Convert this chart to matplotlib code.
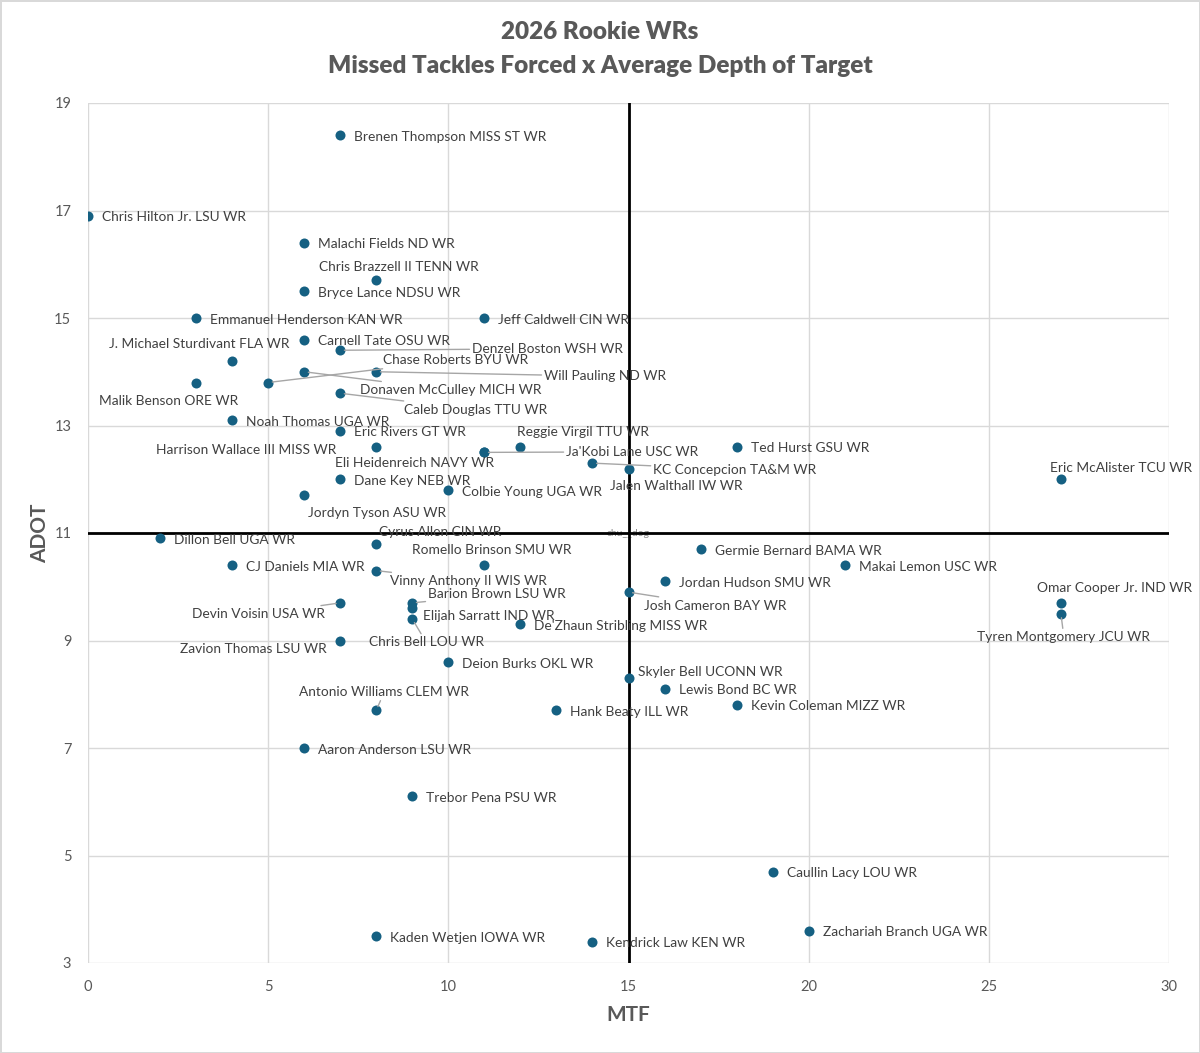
import matplotlib
matplotlib.use("Agg")
import matplotlib.pyplot as plt

# ---------------- data ----------------
players = [
    "Brenen Thompson MISS ST WR", "Chris Hilton Jr. LSU WR", "Malachi Fields ND WR",
    "Chris Brazzell II TENN WR", "Bryce Lance NDSU WR", "Emmanuel Henderson KAN WR",
    "Jeff Caldwell CIN WR", "Carnell Tate OSU WR", "Denzel Boston WSH WR",
    "J. Michael Sturdivant FLA WR", "Chase Roberts BYU WR", "Will Pauling ND WR",
    "Donaven McCulley MICH WR", "Malik Benson ORE WR", "Caleb Douglas TTU WR",
    "Noah Thomas UGA WR", "Eric Rivers GT WR", "Harrison Wallace III MISS WR",
    "Reggie Virgil TTU WR", "Eli Heidenreich NAVY WR", "Ja'Kobi Lane USC WR",
    "Ted Hurst GSU WR", "KC Concepcion TA&M WR", "Jalen Walthall IW WR",
    "Eric McAlister TCU WR", "Dane Key NEB WR", "Colbie Young UGA WR",
    "Jordyn Tyson ASU WR", "Dillon Bell UGA WR", "Cyrus Allen CIN WR",
    "Romello Brinson SMU WR", "Germie Bernard BAMA WR", "CJ Daniels MIA WR",
    "Makai Lemon USC WR", "Vinny Anthony II WIS WR", "Jordan Hudson SMU WR",
    "Omar Cooper Jr. IND WR", "Tyren Montgomery JCU WR", "Josh Cameron BAY WR",
    "Barion Brown LSU WR", "Elijah Sarratt IND WR", "Chris Bell LOU WR",
    "Devin Voisin USA WR", "De'Zhaun Stribling MISS WR", "Zavion Thomas LSU WR",
    "Deion Burks OKL WR", "Skyler Bell UCONN WR", "Lewis Bond BC WR",
    "Kevin Coleman MIZZ WR", "Antonio Williams CLEM WR", "Hank Beaty ILL WR",
    "Aaron Anderson LSU WR", "Trebor Pena PSU WR", "Caullin Lacy LOU WR",
    "Zachariah Branch UGA WR", "Kaden Wetjen IOWA WR", "Kendrick Law KEN WR",
]
mtf = [
    7, 0, 6,
    8, 6, 3,
    11, 6, 7,
    4, 5, 8,
    6, 3, 7,
    4, 7, 8,
    12, 11, 11,
    18, 14, 15,
    27, 7, 10,
    6, 2, 8,
    11, 17, 4,
    21, 8, 16,
    27, 27, 15,
    9, 9, 9,
    7, 12, 7,
    10, 15, 16,
    18, 8, 13,
    6, 9, 19,
    20, 8, 14,
]
adot = [
    18.4, 16.9, 16.4,
    15.7, 15.5, 15.0,
    15.0, 14.6, 14.4,
    14.2, 13.8, 14.0,
    14.0, 13.8, 13.6,
    13.1, 12.9, 12.6,
    12.6, 12.5, 12.5,
    12.6, 12.3, 12.2,
    12.0, 12.0, 11.8,
    11.7, 10.9, 10.8,
    10.4, 10.7, 10.4,
    10.4, 10.3, 10.1,
    9.7, 9.5, 9.9,
    9.7, 9.6, 9.4,
    9.7, 9.3, 9.0,
    8.6, 8.3, 8.1,
    7.8, 7.7, 7.7,
    7.0, 6.1, 4.7,
    3.6, 3.5, 3.4,
]
avg_mtf = 15
avg_adot = 11
x_ticks = [0, 5, 10, 15, 20, 25, 30]
y_ticks = [3, 5, 7, 9, 11, 13, 15, 17, 19]

# ---------------- label placement (pixel offsets, style only) ----------------
# name -> (dx, dy, ha, leader)
label_pos = {
    "Chris Brazzell II TENN WR": (23, 15, "center", False),
    "J. Michael Sturdivant FLA WR": (-33, 19, "center", False),
    "Denzel Boston WSH WR": (132, 3, "left", True),
    "Chase Roberts BYU WR": (115, 24, "left", True),
    "Will Pauling ND WR": (168, -3, "left", True),
    "Donaven McCulley MICH WR": (56, -17, "left", True),
    "Malik Benson ORE WR": (-27, -17, "center", False),
    "Caleb Douglas TTU WR": (64, -15, "left", True),
    "Harrison Wallace III MISS WR": (-40, -1, "right", False),
    "Reggie Virgil TTU WR": (63, 17, "center", False),
    "Eli Heidenreich NAVY WR": (-70, -9, "center", False),
    "Ja'Kobi Lane USC WR": (82, 2, "left", True),
    "KC Concepcion TA&M WR": (61, -5, "left", True),
    "Jalen Walthall IW WR": (48, -16, "center", False),
    "Eric McAlister TCU WR": (60, 13, "center", False),
    "Jordyn Tyson ASU WR": (73, -16, "center", False),
    "Cyrus Allen CIN WR": (64, 13, "center", False),
    "Romello Brinson SMU WR": (7, 17, "center", False),
    "Vinny Anthony II WIS WR": (14, -9, "left", True),
    "Omar Cooper Jr. IND WR": (54, 16, "center", False),
    "Tyren Montgomery JCU WR": (3, -22, "center", True),
    "Josh Cameron BAY WR": (15, -12, "left", True),
    "Barion Brown LSU WR": (16, 10, "left", True),
    "Elijah Sarratt IND WR": (11, -6, "left", False),
    "Chris Bell LOU WR": (14, -22, "center", True),
    "Devin Voisin USA WR": (-15, -10, "right", True),
    "Zavion Thomas LSU WR": (-13, -7, "right", False),
    "Antonio Williams CLEM WR": (8, 20, "center", True),
    "Skyler Bell UCONN WR": (9, 8, "left", False),
}

FONT = "Lato"
GREY = "#595959"
DOT = "#156082"

fig = plt.figure(figsize=(12, 10.53), dpi=100)
fig.patch.set_facecolor("white")
fig.patch.set_edgecolor("#d9d9d9")
fig.patch.set_linewidth(2)

ax = fig.add_axes([88 / 1200, 1 - 963 / 1053, (1169 - 88) / 1200, (963 - 103) / 1053])
ax.set_xlim(0, 30)
ax.set_ylim(3, 19)
ax.set_xticks(x_ticks)
ax.set_yticks(y_ticks)
ax.grid(True, color="#d9d9d9", linewidth=1)
ax.set_axisbelow(True)
for s in ax.spines.values():
    s.set_visible(False)
ax.tick_params(length=0, labelsize=10.5, labelcolor=GREY, pad=12)
for lbl in ax.get_xticklabels() + ax.get_yticklabels():
    lbl.set_fontfamily(FONT)

ax.text(avg_mtf, avg_adot, "chu__dog", fontsize=7.5, color="#8c8c8c",
        ha="center", va="center", fontfamily=FONT, zorder=1.5)

ax.axvline(avg_mtf, color="black", linewidth=2, zorder=2)
ax.axhline(avg_adot, color="black", linewidth=2, zorder=2)

ax.scatter(mtf, adot, s=52, color=DOT, zorder=4, linewidths=0)

for name, x, y in zip(players, mtf, adot):
    dx, dy, ha, leader = label_pos.get(name, (14, 0, "left", False))
    kw = {}
    if leader:
        kw["arrowprops"] = dict(arrowstyle="-", color="#a6a6a6", lw=1,
                                shrinkA=0, shrinkB=3)
    ax.annotate(name, (x, y), xytext=(dx, dy - 1.5), textcoords="offset pixels",
                ha=ha, va="center", fontsize=9.9, color="#404040",
                fontfamily=FONT, zorder=5, **kw)

ax.set_xlabel("MTF", fontsize=15, fontweight="bold", color=GREY,
              fontfamily=FONT, labelpad=8)
ax.set_ylabel("ADOT", fontsize=15, fontweight="bold", color=GREY,
              fontfamily=FONT, labelpad=3)

fig.text(0.5, 1 - 32 / 1053, "2026 Rookie WRs", ha="center", va="center",
         fontsize=17.5, fontweight="heavy", color=GREY, fontfamily=FONT)
fig.text(0.5, 1 - 66 / 1053, "Missed Tackles Forced x Average Depth of Target",
         ha="center", va="center", fontsize=17.5, fontweight="heavy", color=GREY,
         fontfamily=FONT)

fig.savefig("out.png", dpi=100, facecolor=fig.get_facecolor(),
            edgecolor=fig.get_edgecolor())
